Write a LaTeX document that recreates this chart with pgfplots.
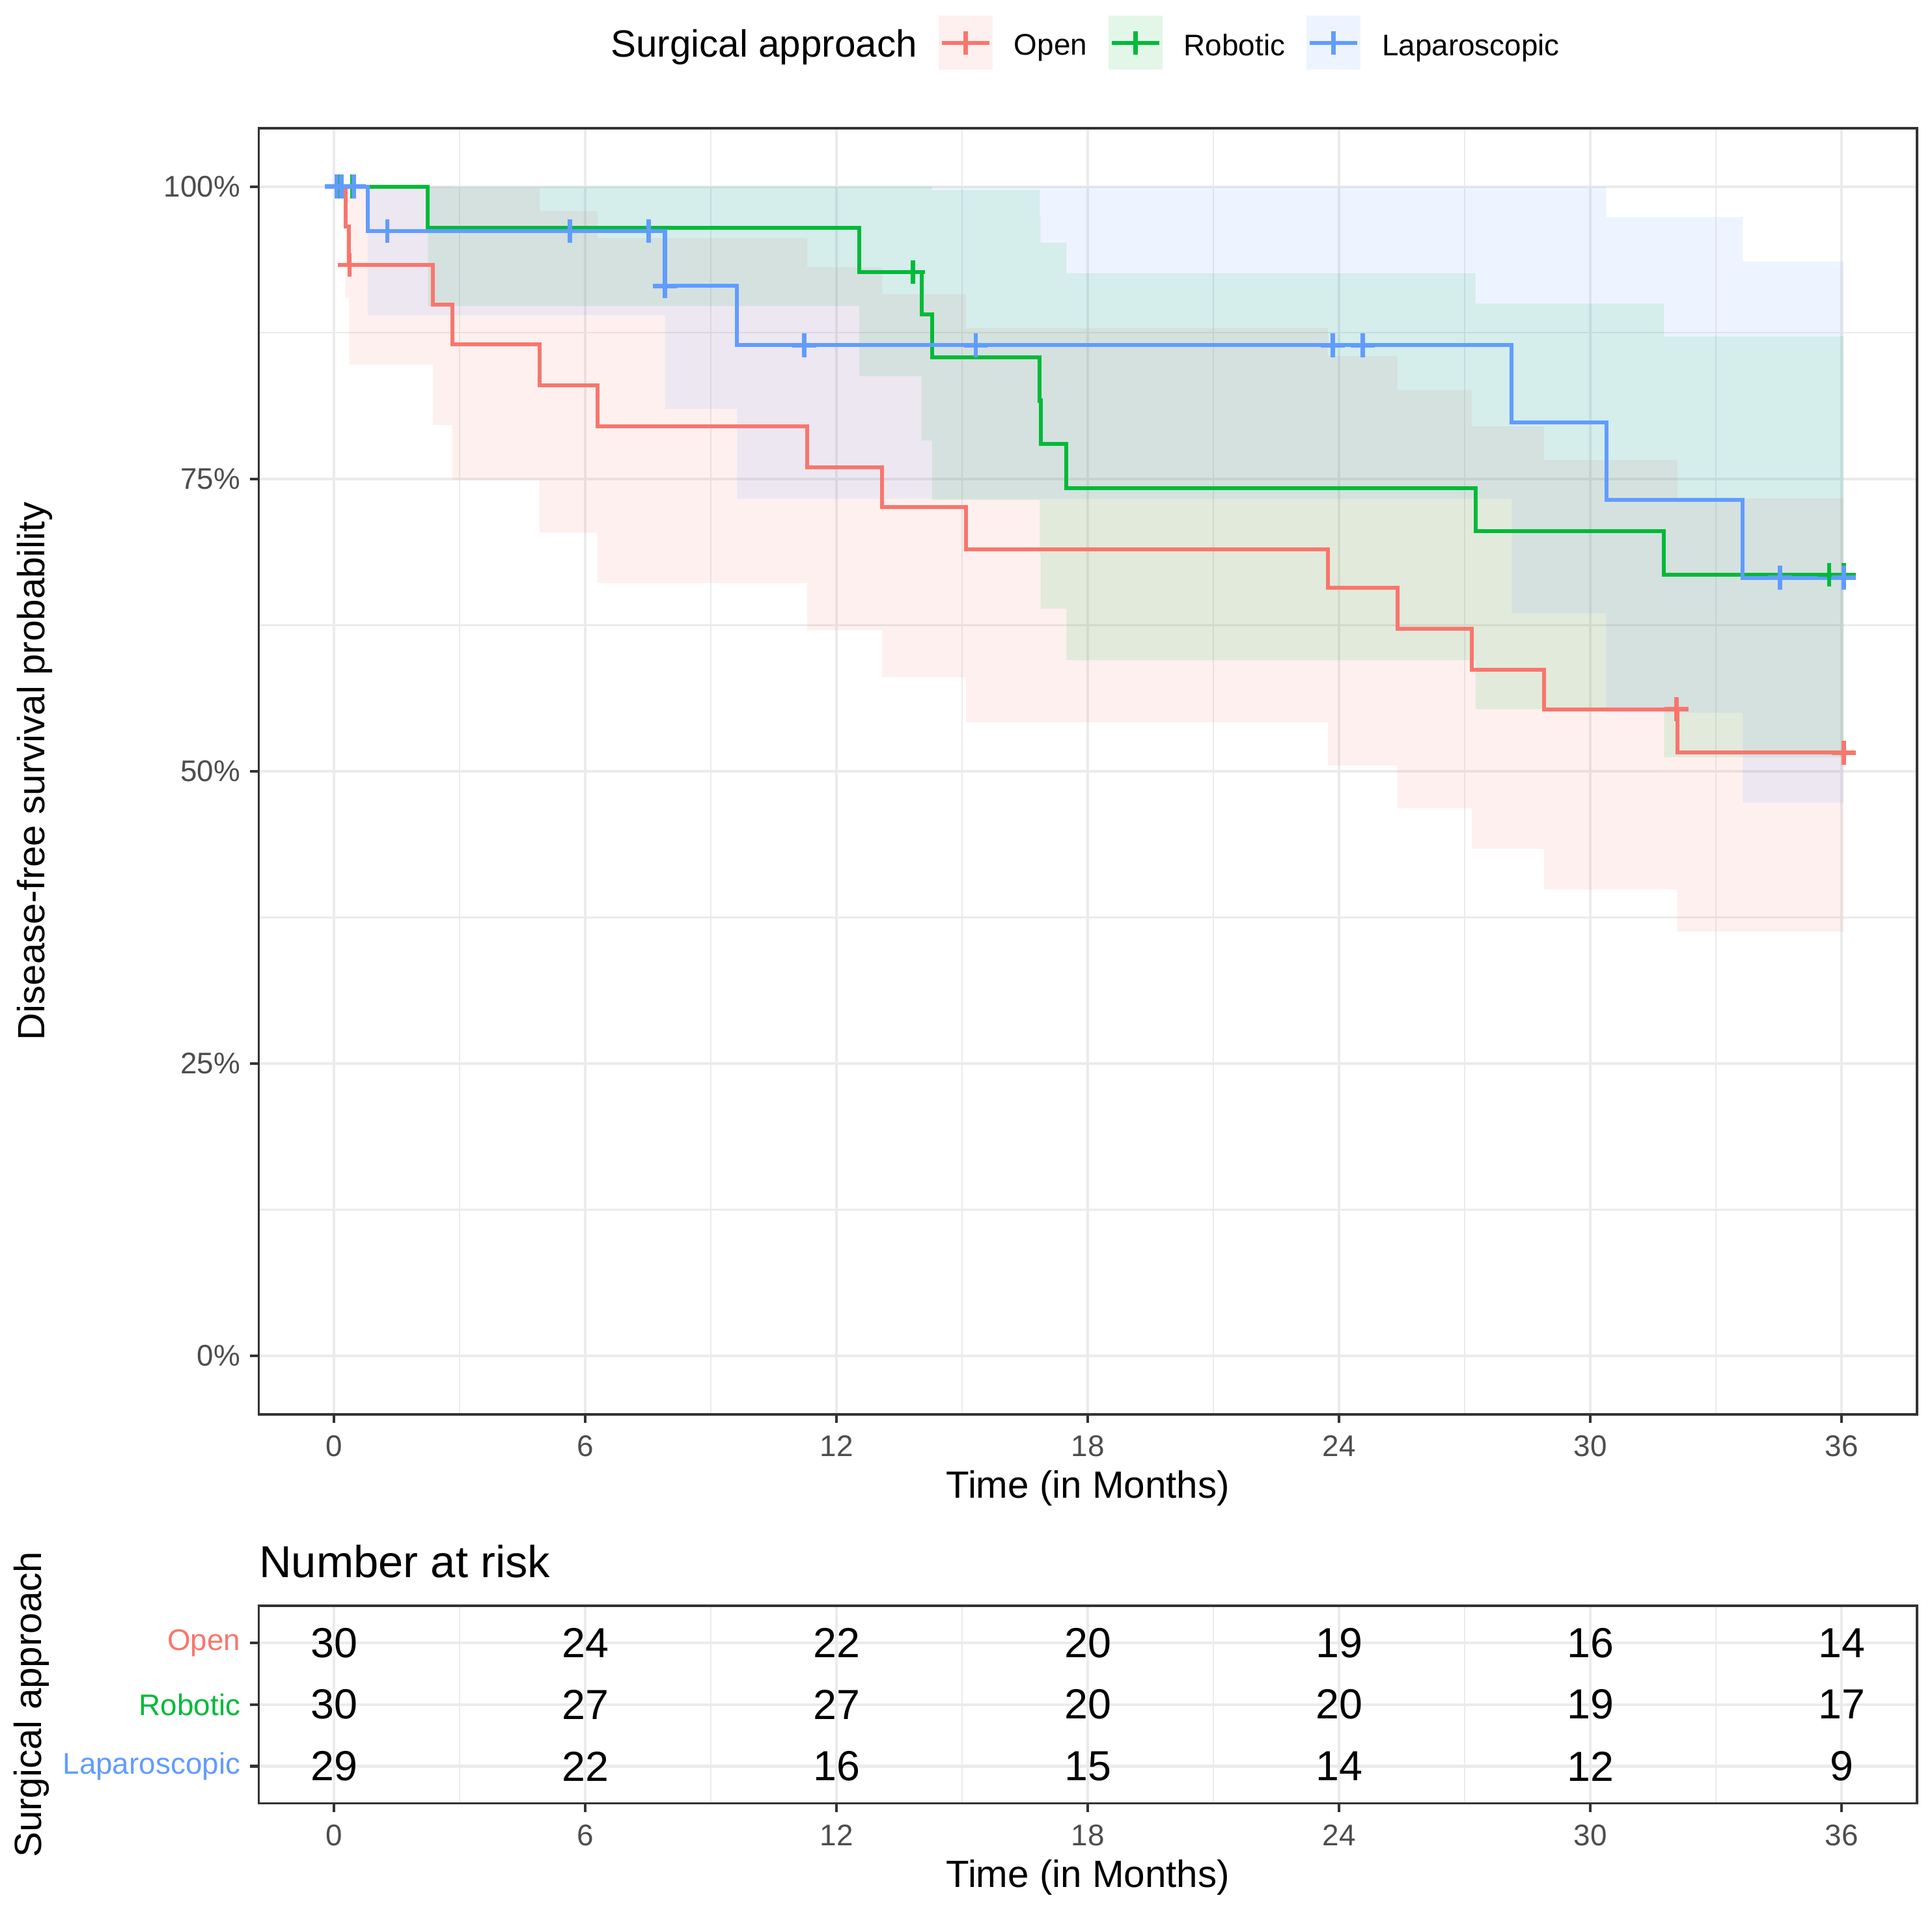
\documentclass[border=0pt]{standalone}
\usepackage{fontspec}
\setmainfont{Liberation Sans}
\usepackage{pgfplots}
\usepackage{pgfplotstable}
\pgfplotsset{compat=1.18}
\usepgfplotslibrary{fillbetween}
\definecolor{cOpen}{HTML}{F8766D}
\definecolor{cRob}{HTML}{00BA38}
\definecolor{cLap}{HTML}{619CFF}
\definecolor{gridc}{HTML}{EBEBEB}
\definecolor{framec}{HTML}{333333}
\definecolor{ticklab}{HTML}{4D4D4D}

% Kaplan-Meier estimates with confidence band (t, S, lower, upper)
\pgfplotstableread{
t S lo hi
0 100 100 100
0.27 96.6 90.5 100
0.36 93.3 84.8 100
2.36 89.9 79.6 100
2.82 86.5 74.9 99.9
4.91 83.0 70.4 97.9
6.29 79.5 66.1 95.6
11.30 76.0 62.05 93.1
13.09 72.6 58.05 90.8
15.09 69.0 54.2 87.9
23.73 65.7 50.5 85.5
25.39 62.2 46.85 82.6
27.16 58.7 43.35 79.5
28.89 55.3 39.9 76.6
32.08 51.6 36.3 73.35
36.05 51.6 36.3 73.35
}\openKM
\pgfplotstableread{
t S lo hi
0 100 100 100
2.24 96.5 89.8 100
12.54 92.7 83.8 100
14.03 89.1 78.3 100
14.28 85.4 73.2 99.7
16.85 81.7 68.5 97.5
16.87 78.0 63.9 95.2
17.49 74.2 59.5 92.6
27.26 70.55 55.3 90.0
31.76 66.8 51.2 87.2
36.05 66.8 51.2 87.2
}\robKM
\pgfplotstableread{
t S lo hi
0 100 100 100
0.80 96.2 89.0 100
7.90 91.5 81.0 100
9.62 86.45 73.3 100
28.12 79.85 63.5 100
30.38 73.2 55.0 97.4
33.64 66.55 47.3 93.6
36.05 66.55 47.3 93.6
}\lapKM
% censored observations
\pgfplotstableread{
t S
0.37 93.3
32.06 55.3
36.05 51.6
}\openCens
\pgfplotstableread{
t S
0.13 100
0.43 100
13.82 92.7
35.70 66.8
36.05 66.8
}\robCens
\pgfplotstableread{
t S
0.06 100
0.17 100
0.47 100
1.27 96.2
5.63 96.2
7.51 96.2
7.90 91.5
11.23 86.45
15.32 86.45
23.85 86.45
24.56 86.45
34.53 66.55
36.05 66.55
}\lapCens
% number at risk (grp 3 = Open, 2 = Robotic, 1 = Laparoscopic)
\pgfplotstableread{
t grp n
0 3 30
6 3 24
12 3 22
18 3 20
24 3 19
30 3 16
36 3 14
0 2 30
6 2 27
12 2 27
18 2 20
24 2 20
30 2 19
36 2 17
0 1 29
6 1 22
12 1 16
18 1 15
24 1 14
30 1 12
36 1 9
}\riskTab

\pgfplotsset{
  kmbase/.style={
    scale only axis,
    width=611.4pt,
    xmin=-1.8, xmax=37.8,
    xtick={0,6,...,36}, xticklabels={0,6,12,18,24,30,36},
    minor xtick={3,9,...,33},
    tick align=outside, major tick length=3.2pt, minor tick length=0pt,
    xtick pos=lower, ytick pos=left,
    tick style={framec, line width=1.0pt},
    axis line style={framec, line width=0.9pt},
    major grid style={gridc, line width=1.05pt},
    minor grid style={gridc, line width=0.55pt},
    ticklabel style={font=\fontsize{11}{13}\selectfont, text=ticklab},
    xticklabel style={inner sep=0pt, yshift=-4.5pt},
    yticklabel style={inner sep=0pt, xshift=-3.4pt},
    label style={font=\fontsize{14}{16}\selectfont, text=black},
  },
  band/.style={draw=none, fill=#1, fill opacity=0.11, forget plot},
  kmline/.style={#1, line width=1.45pt, const plot, forget plot},
  cens/.style={#1, only marks, mark=+, mark size=4.4pt, mark options={line width=1.6pt}, forget plot},
  keyimg/.style={legend image code/.code={
      \path[draw=none, fill=#1, fill opacity=0.11] (0pt,-8.56pt) rectangle (19.92pt,11.36pt);
      \path[draw=#1, line width=1.5pt] (1.2pt,1.4pt) -- (18.7pt,1.4pt);
      \path[draw=#1, line width=1.6pt] (9.96pt,-2.9pt) -- (9.96pt,5.7pt);
  }},
}

\begin{document}
\begin{tikzpicture}
\path (0,0) rectangle (712.32pt,705.36pt);

\begin{axis}[kmbase,
  at={(95.4pt,183.84pt)}, anchor=south west,
  height=474.24pt,
  ymin=-5, ymax=105,
  ytick={0,25,50,75,100}, yticklabels={0\%,25\%,50\%,75\%,100\%},
  minor ytick={12.5,37.5,62.5,87.5},
  grid=both,
  xlabel={Time (in Months)},
  ylabel={Disease-free survival probability},
  xlabel style={at={(axis description cs:0.5,-0.06528)}, anchor=base},
  ylabel style={at={(axis description cs:-0.1352,0.5)}, anchor=center},
  legend style={at={(axis description cs:0.41001,1.0664)}, anchor=west,
    draw=none, fill=none, inner sep=0pt, outer sep=0pt,
    font=\fontsize{11}{13}\selectfont,
    nodes={inner sep=0pt, outer sep=0pt},
    /tikz/every odd column/.append style={column sep=7.9pt},
    /tikz/every even column/.append style={column sep=7.9pt}},
  legend columns=-1,
]
% confidence bands
\addplot[draw=none, const plot, name path=oU, forget plot] table[x=t, y=hi]{\openKM};
\addplot[draw=none, const plot, name path=oL, forget plot] table[x=t, y=lo]{\openKM};
\addplot[band=cOpen] fill between[of=oU and oL];
\addplot[draw=none, const plot, name path=rU, forget plot] table[x=t, y=hi]{\robKM};
\addplot[draw=none, const plot, name path=rL, forget plot] table[x=t, y=lo]{\robKM};
\addplot[band=cRob] fill between[of=rU and rL];
\addplot[draw=none, const plot, name path=lU, forget plot] table[x=t, y=hi]{\lapKM};
\addplot[draw=none, const plot, name path=lL, forget plot] table[x=t, y=lo]{\lapKM};
\addplot[band=cLap] fill between[of=lU and lL];
% survival curves
\addplot[kmline=cOpen] table[x=t, y=S]{\openKM};
\addplot[kmline=cRob] table[x=t, y=S]{\robKM};
\addplot[kmline=cLap] table[x=t, y=S]{\lapKM};
% censoring marks
\addplot[cens=cOpen] table[x=t, y=S]{\openCens};
\addplot[cens=cRob] table[x=t, y=S]{\robCens};
\addplot[cens=cLap] table[x=t, y=S]{\lapCens};
% legend
\addlegendimage{keyimg=cOpen}
\addlegendentry{Open}
\addlegendimage{keyimg=cRob}
\addlegendentry{Robotic}
\addlegendimage{keyimg=cLap}
\addlegendentry{Laparoscopic}
\end{axis}

\node[anchor=base east, inner sep=0pt, font=\fontsize{14}{16}\selectfont] at (338.3pt,684.4pt) {Surgical approach};

\begin{axis}[kmbase,
  at={(95.4pt,40.44pt)}, anchor=south west,
  height=72.84pt,
  ymin=0.4, ymax=3.6,
  ytick={1,2,3},
  yticklabels={\textcolor{cLap}{Laparoscopic},\textcolor{cRob}{Robotic},\textcolor{cOpen}{Open}},
  xmajorgrids, xminorgrids, ymajorgrids,
  xlabel={Time (in Months)},
  ylabel={Surgical approach},
  xlabel style={at={(axis description cs:0.5,-0.4267)}, anchor=base},
  ylabel style={at={(axis description cs:-0.137,0.5)}, anchor=center},
]
\addplot[draw=none, nodes near coords, point meta=explicit symbolic,
  every node near coord/.append style={anchor=center, inner sep=0pt, text=black,
    font=\fontsize{15.5}{17}\selectfont}]
  table[x=t, y=grp, meta=n]{\riskTab};
\end{axis}

\node[anchor=base west, inner sep=0pt, font=\fontsize{16.5}{18}\selectfont] at (95.4pt,123.6pt) {Number at risk};

\pgfresetboundingbox
\path[use as bounding box] (0,0) rectangle (712.32pt,705.36pt);
\end{tikzpicture}
\end{document}
